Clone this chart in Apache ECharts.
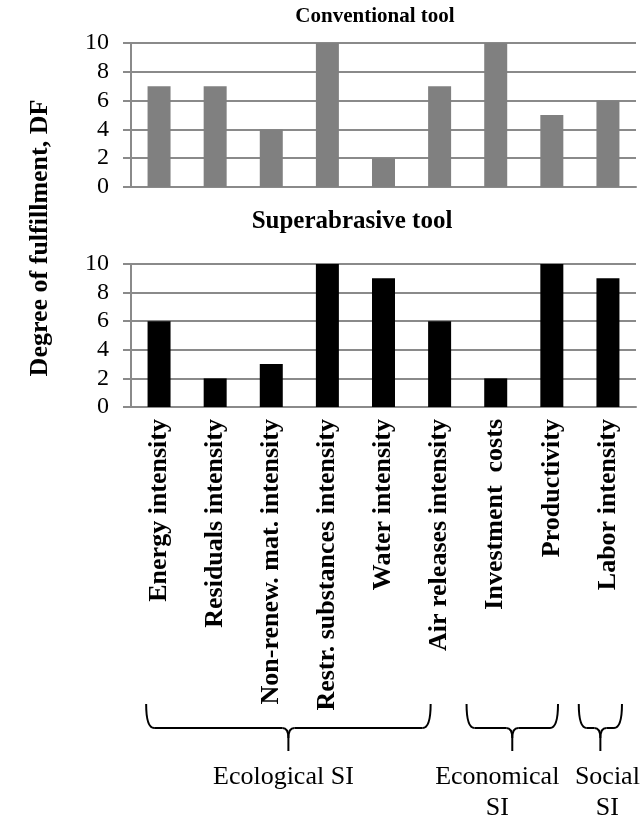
<!DOCTYPE html>
<html>
<head>
<meta charset="utf-8">
<script src="https://cdn.jsdelivr.net/npm/echarts@6/dist/echarts.min.js"></script>
<style>html,body{margin:0;padding:0;background:#fff;}#c{width:644px;height:821px;}</style>
</head>
<body>
<div id="c"></div>
<script>
const categories = ['Energy intensity','Residuals intensity','Non-renew. mat. intensity','Restr. substances intensity','Water intensity','Air releases intensity','Investment  costs','Productivity','Labor intensity'];
const conventional = [7, 7, 4, 10, 2, 7, 10, 5, 6];
const superabrasive = [6, 2, 3, 10, 9, 6, 2, 10, 9];
const yMin = 0, yMax = 10, yStep = 2;
const titles = ['Conventional tool', 'Superabrasive tool'];
const yName = 'Degree of fulfillment, DF';
const groupLabels = ['Ecological SI', 'Economical\nSI', 'Social\nSI'];
const groupFrom = [0, 6, 8];
const groupTo = [5, 7, 8];

const FONT = '"Liberation Serif","Times New Roman",serif';
const GRID = '#8a8a8a';
const chart = echarts.init(document.getElementById('c'));

function yAxisCfg(i) {
  return {
    gridIndex: i, type: 'value', min: yMin, max: yMax, interval: yStep,
    axisLine: {show: true, lineStyle: {color: GRID, width: 2}},
    axisTick: {show: true, length: 8, lineStyle: {color: GRID, width: 2}},
    splitLine: {show: true, lineStyle: {color: GRID, width: 2}},
    axisLabel: {color: '#000', fontFamily: FONT, fontSize: 24, margin: 22}
  };
}

chart.setOption({
  animation: false,
  grid: [
    {left: 131, right: 8, top: 43, height: 144},
    {left: 131, right: 8, top: 264, height: 143}
  ],
  xAxis: [
    {gridIndex: 0, type: 'category', data: categories,
     axisLine: {lineStyle: {color: GRID, width: 2}}, axisTick: {show: false}, axisLabel: {show: false}},
    {gridIndex: 1, type: 'category', data: categories,
     axisLine: {lineStyle: {color: GRID, width: 2}}, axisTick: {show: false},
     axisLabel: {interval: 0, rotate: 90, color: '#000', fontFamily: FONT, fontWeight: 'bold', fontSize: 26, margin: 12}}
  ],
  yAxis: [yAxisCfg(0), yAxisCfg(1)],
  series: [
    {type: 'bar', xAxisIndex: 0, yAxisIndex: 0, data: conventional, barWidth: 23, itemStyle: {color: '#808080'}},
    {type: 'bar', xAxisIndex: 1, yAxisIndex: 1, data: superabrasive, barWidth: 23, itemStyle: {color: '#000000'}}
  ]
});

// annotations
const px = i => chart.convertToPixel({xAxisIndex: 1}, categories[i]);
const band = px(1) - px(0);
const braceOff = [[-0.23, -0.16], [-0.52, 0.11], [-0.52, 0.25]];
const labelShift = [-5, -15, 7];
const els = [];
function txt(x, y, text, font, extra) {
  return Object.assign({type: 'text', x: x, y: y, style: {text: text, font: font, fill: '#000', align: 'center', verticalAlign: 'middle'}}, extra || {});
}
els.push(txt(375, 17, titles[0], 'bold 21px ' + FONT));
els.push(txt(352, 222, titles[1], 'bold 25px ' + FONT));
els.push(txt(40, 238, yName, 'bold 26px ' + FONT, {rotation: Math.PI / 2}));

const yTop = 704, yMid = 728, yTip = 751;
const ls = {stroke: '#000', lineWidth: 2, fill: 'none'};
for (let g = 0; g < groupLabels.length; g++) {
  const L = px(groupFrom[g]) + braceOff[g][0] * band;
  const R = px(groupTo[g]) + braceOff[g][1] * band;
  const C = (L + R) / 2;
  els.push({type: 'bezierCurve', shape: {x1: L, y1: yTop, cpx1: L, cpy1: yMid, x2: L + 8, y2: yMid}, style: ls});
  els.push({type: 'line', shape: {x1: L + 8, y1: yMid, x2: C - 6, y2: yMid}, style: ls});
  els.push({type: 'bezierCurve', shape: {x1: C - 6, y1: yMid, cpx1: C, cpy1: yMid, x2: C, y2: yMid + 10}, style: ls});
  els.push({type: 'bezierCurve', shape: {x1: C + 6, y1: yMid, cpx1: C, cpy1: yMid, x2: C, y2: yMid + 10}, style: ls});
  els.push({type: 'line', shape: {x1: C + 6, y1: yMid, x2: R - 8, y2: yMid}, style: ls});
  els.push({type: 'bezierCurve', shape: {x1: R - 8, y1: yMid, cpx1: R, cpy1: yMid, x2: R, y2: yTop}, style: ls});
  els.push({type: 'line', shape: {x1: C, y1: yMid + 10, x2: C, y2: yTip}, style: ls});
  els.push({type: 'text', x: C + labelShift[g], y: 762,
    style: {text: groupLabels[g], font: '26px ' + FONT, fill: '#000', align: 'center', verticalAlign: 'top', lineHeight: 31}});
}
chart.setOption({graphic: {elements: els}});
</script>
</body>
</html>
